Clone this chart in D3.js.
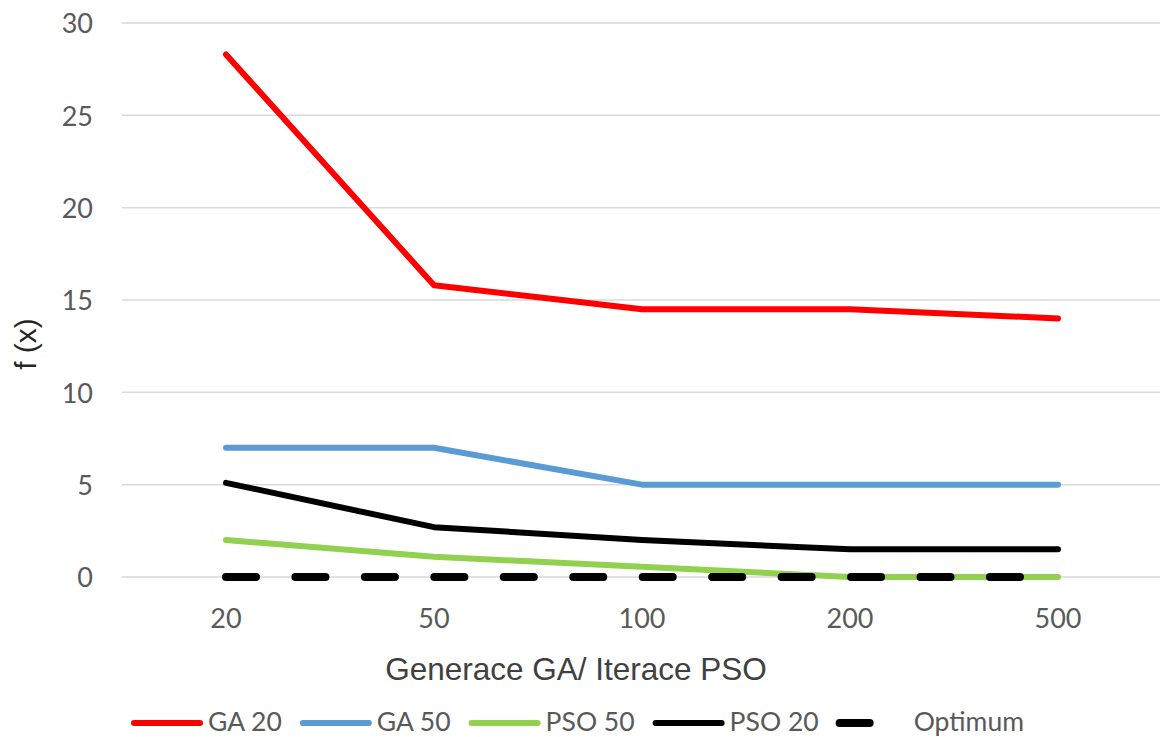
<!DOCTYPE html>
<html>
<head>
<meta charset="utf-8">
<script src="https://cdn.jsdelivr.net/npm/d3@7"></script>
<style>
  html, body { margin: 0; padding: 0; background: #ffffff; }
  svg { display: block; }
</style>
</head>
<body>
<svg id="chart" width="1162" height="737"></svg>
<script>
// Number of generations (GA) / iterations (PSO)
const categories = ["20", "50", "100", "200", "500"];

// Best objective value f(x) reached
const ga20   = [28.3, 15.8, 14.5, 14.5, 14.0];
const ga50   = [7.0, 7.0, 5.0, 5.0, 5.0];
const pso50  = [2.0, 1.1, 0.55, 0.0, 0.0];
const pso20  = [5.1, 2.7, 2.0, 1.5, 1.5];
const optimum = [0, 0, 0, 0, 0];

const yTicks = [0, 5, 10, 15, 20, 25, 30];

const series = [
  { name: "GA 20",   values: ga20,    color: "#FF0000", width: 6,   dash: null },
  { name: "GA 50",   values: ga50,    color: "#5B9BD5", width: 6,   dash: null },
  { name: "PSO 50",  values: pso50,   color: "#92D050", width: 6,   dash: null },
  { name: "PSO 20",  values: pso20,   color: "#000000", width: 6,   dash: null },
  { name: "Optimum", values: optimum, color: "#000000", width: 8,   dash: "30,39.45" }
];

const svg = d3.select("#chart");
const tickFont = "Lato, 'Open Sans', sans-serif";
const titleFont = "'Liberation Sans', Arial, sans-serif";

const x = d3.scaleBand().domain(categories).range([122, 1162]);
const y = d3.scaleLinear().domain([0, 30]).range([577, 23]);
const cx = c => x(c) + x.bandwidth() / 2;

// Horizontal gridlines
svg.append("g")
  .selectAll("line")
  .data(yTicks)
  .join("line")
  .attr("x1", 122).attr("x2", 1160)
  .attr("y1", d => y(d)).attr("y2", d => y(d))
  .attr("stroke", "#D9D9D9")
  .attr("stroke-width", 1.5);

// Y axis labels
const yAxis = d3.axisLeft(y).tickValues(yTicks).tickSize(0).tickPadding(0);
const gy = svg.append("g").attr("transform", "translate(93,0)").call(yAxis);
gy.select(".domain").remove();
gy.selectAll("text")
  .attr("font-family", tickFont)
  .attr("font-size", 27)
  .attr("fill", "#595959")
  .attr("dy", "0.36em");

// X axis labels
const xAxis = d3.axisBottom(x).tickSize(0).tickPadding(0);
const gx = svg.append("g").attr("transform", "translate(0,628)").call(xAxis);
gx.select(".domain").remove();
gx.selectAll("text")
  .attr("font-family", tickFont)
  .attr("font-size", 27)
  .attr("fill", "#595959")
  .attr("dy", 0);

// Axis titles
svg.append("text")
  .attr("x", 576).attr("y", 680)
  .attr("text-anchor", "middle")
  .attr("font-family", titleFont)
  .attr("font-size", 31.5)
  .attr("fill", "#404040")
  .text("Generace GA/ Iterace PSO");

svg.append("text")
  .attr("transform", "translate(36,344) rotate(-90)")
  .attr("text-anchor", "middle")
  .attr("font-family", titleFont)
  .attr("font-size", 30)
  .attr("fill", "#262626")
  .text("f (x)");

// Series lines
const line = d3.line()
  .x((d, i) => cx(categories[i]))
  .y(d => y(d));

svg.append("g")
  .selectAll("path")
  .data(series)
  .join("path")
  .attr("d", s => line(s.values))
  .attr("fill", "none")
  .attr("stroke", s => s.color)
  .attr("stroke-width", s => s.width)
  .attr("stroke-linecap", "round")
  .attr("stroke-linejoin", "round")
  .attr("stroke-dasharray", s => s.dash);

// Legend
const legend = svg.append("g");
const symLen = 66, capPad = 3, textGap = 5, itemGap = 18;
let pos = 0;
series.forEach(s => {
  const g = legend.append("g");
  g.append("line")
    .attr("x1", capPad).attr("x2", capPad + symLen)
    .attr("y1", 723).attr("y2", 723)
    .attr("stroke", s.color)
    .attr("stroke-width", s.width)
    .attr("stroke-linecap", "round")
    .attr("stroke-dasharray", s.dash);
  const t = g.append("text")
    .attr("x", capPad * 2 + symLen + textGap)
    .attr("y", 731)
    .attr("font-family", tickFont)
    .attr("font-size", 26.5)
    .attr("fill", "#595959")
    .text(s.name);
  const w = capPad * 2 + symLen + textGap + t.node().getComputedTextLength();
  g.attr("transform", `translate(${pos},0)`);
  pos += w + itemGap;
});
const total = pos - itemGap;
legend.attr("transform", `translate(${577.5 - total / 2},0)`);
</script>
</body>
</html>
